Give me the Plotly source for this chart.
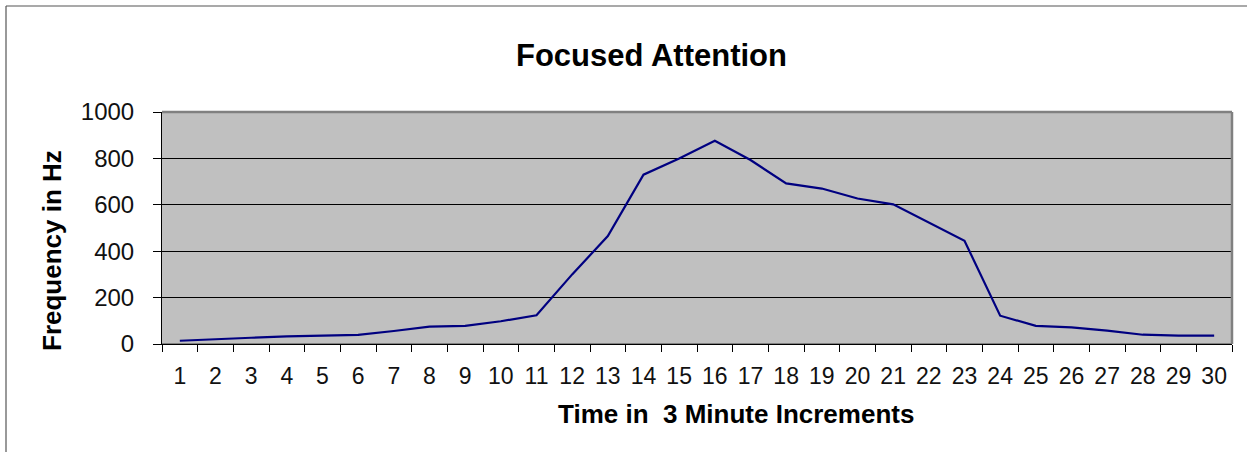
import plotly.graph_objects as go

categories = [str(i) for i in range(1, 31)]
frequency = [14, 19, 27, 33, 35, 39, 56, 75, 78, 98,
             124, 300, 465, 730, 800, 876, 793, 692, 670, 627,
             602, 523, 445, 122, 78, 72, 58, 40, 36, 36]
y_ticks = [0, 200, 400, 600, 800, 1000]

FONT = "Arial, 'Liberation Sans', sans-serif"

# pixel geometry helpers (plot area 162..1232 x 112..344)
L, R, T, B = 162, 1232, 112, 344
W, H = 1247, 452
def px(x):
    return (x - L) / (R - L)
def py(y):
    return (B - y) / (B - T)

fig = go.Figure()
fig.add_trace(go.Scatter(
    x=categories, y=frequency, mode="lines",
    line=dict(color="#000080", width=2.2),
    showlegend=False, hoverinfo="skip",
))

fig.update_layout(
    width=W, height=H,
    margin=dict(l=L, r=W - R, t=T, b=H - B, autoexpand=False),
    paper_bgcolor="white",
    plot_bgcolor="#C0C0C0",
    font=dict(family=FONT, color="black"),
    xaxis=dict(
        type="category", tickson="boundaries",
        ticks="outside", ticklen=7, tickwidth=1, tickcolor="black",
        showgrid=False, zeroline=False,
        showline=True, linecolor="black", linewidth=1,
        tickfont=dict(size=23, family=FONT, color="#111111"),
        tickangle=0,
        ticklabelstandoff=11,
        range=[-0.5, 29.5],
    ),
    yaxis=dict(
        range=[0, 1000], tickvals=y_ticks,
        ticks="outside", ticklen=8, tickwidth=1, tickcolor="black",
        showgrid=True, gridcolor="black", gridwidth=1.4,
        zeroline=False,
        showline=True, linecolor="black", linewidth=1,
        tickfont=dict(size=24, family=FONT, color="#111111"),
        ticklabelstandoff=14,
    ),
    shapes=[
        # plot area border (gray) on top/right/bottom
        dict(type="line", xref="paper", yref="paper", x0=0, x1=1, y0=1, y1=1,
             line=dict(color="#808080", width=2.5)),
        dict(type="line", xref="paper", yref="paper", x0=1, x1=1, y0=0, y1=1,
             line=dict(color="#808080", width=2.5)),
        dict(type="line", xref="paper", yref="paper", x0=0, x1=1, y0=0, y1=0,
             line=dict(color="#808080", width=2), layer="below"),
        # outer chart frame
        dict(type="line", xref="paper", yref="paper", x0=px(6), x1=px(6), y0=py(6), y1=py(460),
             line=dict(color="#555555", width=1.2)),
        dict(type="line", xref="paper", yref="paper", x0=px(6), x1=px(1260), y0=py(6), y1=py(6),
             line=dict(color="#555555", width=1.2)),
    ],
    annotations=[
        dict(text="<b>Focused Attention</b>", xref="paper", yref="paper",
             x=px(651), y=py(56), xanchor="center", yanchor="middle",
             showarrow=False, font=dict(size=31, family=FONT, color="black")),
        dict(text="<b>Time in  3 Minute Increments</b>", xref="paper", yref="paper",
             x=px(736), y=py(414), xanchor="center", yanchor="middle",
             showarrow=False, font=dict(size=26, family=FONT, color="black")),
        dict(text="<b>Frequency in Hz</b>", xref="paper", yref="paper",
             x=px(52), y=py(251), xanchor="center", yanchor="middle", textangle=-90,
             showarrow=False, font=dict(size=26, family=FONT, color="black")),
    ],
)

fig.write_html("out.html", config={"displayModeBar": False},
               post_script="document.body.style.margin='0';")
